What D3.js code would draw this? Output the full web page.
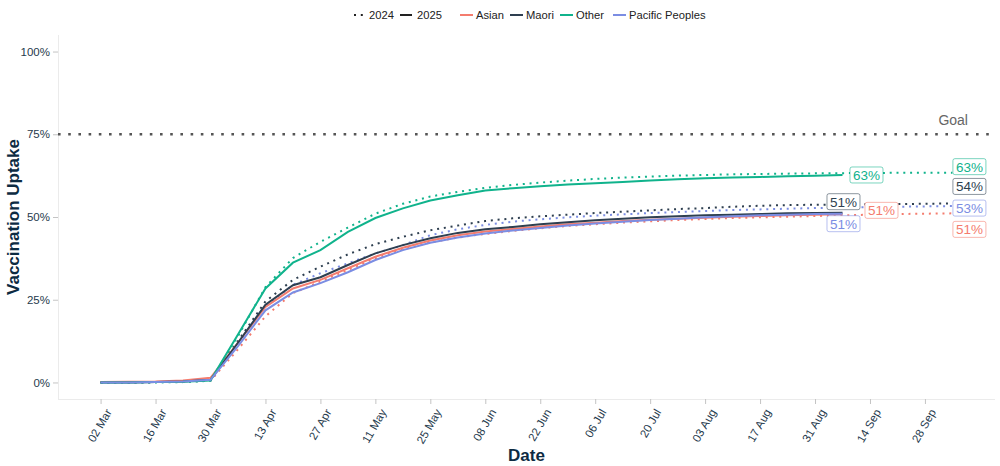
<!DOCTYPE html>
<html>
<head>
<meta charset="utf-8">
<title>Vaccination Uptake</title>
<style>
  body { margin: 0; background: #fff; font-family: 'Liberation Sans', Arial, Helvetica, sans-serif; }
  .axis text { fill: #1f3a4d; font-size: 11.5px; }
  .axis .domain { stroke: #ebebeb; }
  .axis .tick line { stroke: #c4c4c4; }
  .axisTitle { fill: #0d2b42; font-weight: bold; font-size: 17px; }
  .legend text { fill: #222; font-size: 11.2px; }
</style>
</head>
<body>
<div id="viz"></div>
<script src="https://d3js.org/d3.v7.min.js"></script>
<script>
// weekly dates (2024 runs a month longer than 2025)
var dates = ['2025-03-02','2025-03-09','2025-03-16','2025-03-23','2025-03-30','2025-04-06','2025-04-13',
  '2025-04-20','2025-04-27','2025-05-04','2025-05-11','2025-05-18','2025-05-25','2025-06-01','2025-06-08',
  '2025-06-15','2025-06-22','2025-06-29','2025-07-06','2025-07-13','2025-07-20','2025-07-27','2025-08-03',
  '2025-08-10','2025-08-17','2025-08-24','2025-08-31','2025-09-07','2025-09-14','2025-09-21','2025-09-28',
  '2025-10-05'];

var tickDates = ['2025-03-02','2025-03-16','2025-03-30','2025-04-13','2025-04-27','2025-05-11','2025-05-25',
  '2025-06-08','2025-06-22','2025-07-06','2025-07-20','2025-08-03','2025-08-17','2025-08-31','2025-09-14',
  '2025-09-28'];

var yTicks = [0, 25, 50, 75, 100];
var goal = 75;

var groups = ['Asian', 'Maori', 'Other', 'Pacific Peoples'];
var colors = ['#f47c6e', '#2e3f50', '#10b38c', '#7b8de3'];

// 2025 uptake (%), Mar 2 - Sep 7
var asian2025 = [0.1,0.2,0.3,0.6,1.4,12,22.8,28.4,31,34.5,38,40.7,42.9,44.5,45.6,46.4,47.1,47.8,48.3,48.8,49.2,49.5,49.8,50.1,50.3,50.5,50.7,50.8];
var maori2025 = [0,0,0.1,0.3,0.8,12,23.5,29.4,31.8,35.5,39,41.5,43.6,45.2,46.3,47,47.8,48.4,49,49.5,49.9,50.2,50.5,50.7,50.9,51.1,51.2,51.3];
var other2025 = [0,0,0.1,0.2,0.6,14.5,28.4,36.2,40,45.5,49.7,52.6,55,56.6,58,58.7,59.3,59.8,60.2,60.6,61,61.4,61.7,61.9,62.1,62.3,62.5,62.7];
var pacific2025 = [0,0,0.1,0.3,0.8,11,21.8,27.2,30,33.3,37,40,42.2,43.8,45,45.9,46.7,47.4,48,48.6,49.1,49.5,49.9,50.2,50.5,50.7,50.9,51];

// 2024 uptake (%), same week of year, Mar 2 - Oct 5
var asian2024 = [0,0,0.1,0.2,0.5,10,20,27,30.5,34,37.5,40.2,42.3,43.8,44.9,45.8,46.6,47.3,47.8,48.3,48.7,49.1,49.4,49.7,49.9,50.1,50.3,50.5,50.7,50.9,51,51.1];
var maori2024 = [0,0,0.1,0.2,0.7,12.5,24.5,31,35,38.7,41.8,44,46,47.4,48.8,49.6,50.2,50.7,51.2,51.6,52,52.4,52.7,53.1,53.4,53.6,53.7,53.8,53.85,53.9,54,54.1];
var other2024 = [0,0,0,0.1,0.5,14,28.8,37.6,42.5,46.8,51,54,56.2,57.6,58.8,59.7,60.4,61,61.5,61.9,62.2,62.5,62.7,62.9,63,63.1,63.2,63.25,63.3,63.35,63.4,63.4];
var pacific2024 = [0,0,0.1,0.2,0.6,11.5,23,29.5,33,36,39,41.5,44.5,46.3,47.6,48.6,49.3,49.9,50.4,50.8,51.2,51.5,51.8,52.1,52.3,52.5,52.7,52.9,53,53.1,53.2,53.3];

var series2025 = [asian2025, maori2025, other2025, pacific2025];
var series2024 = [asian2024, maori2024, other2024, pacific2024];

// nudges for the end labels (pixels), roughly where the repel put them
var nudge2025 = [[39, -4], [1, -11], [24, 0], [1, 10]];
var nudge2024 = [[17, 16], [17, -17], [17, -6], [17, 2]];

var parse = d3.timeParse('%Y-%m-%d');
var W = 1000, H = 466;
var padL = 58, padR = 995, padT = 35, padB = 399;

var svg = d3.select('#viz').append('svg').attr('width', W).attr('height', H);

var d0 = parse(dates[0]), d1 = parse(dates[dates.length - 1]);
var pad = (d1 - d0) * 0.05;
var x = d3.scaleTime().domain([new Date(+d0 - pad), new Date(+d1 + pad)]).range([padL, padR]);
var y = d3.scaleLinear().domain([-5, 105]).range([padB, padT]);

// axes
svg.append('g')
    .attr('class', 'axis')
    .attr('transform', 'translate(' + padL + ',0)')
    .call(d3.axisLeft(y).tickValues(yTicks).tickSize(5).tickPadding(3).tickFormat(function(d){ return d + '%'; }))
    .call(function(g){ g.select('.domain').attr('d', 'M0.5,' + padT + 'V' + padB); });

var xAxis = svg.append('g')
    .attr('class', 'axis')
    .attr('transform', 'translate(0,' + padB + ')')
    .call(d3.axisBottom(x).tickValues(tickDates.map(parse)).tickSize(5).tickFormat(d3.timeFormat('%d %b')))
    .call(function(g){ g.select('.domain').attr('d', 'M' + padL + ',0.5H' + padR); });
xAxis.selectAll('.tick text')
    .attr('text-anchor', 'end')
    .attr('y', 0).attr('dy', '0.7em')
    .attr('transform', 'translate(4,9) rotate(-60)');

svg.append('text').attr('class', 'axisTitle')
    .attr('transform', 'translate(19,' + y(50) + ') rotate(-90)')
    .attr('text-anchor', 'middle')
    .text('Vaccination Uptake');
svg.append('text').attr('class', 'axisTitle')
    .attr('x', (padL + padR) / 2).attr('y', 461)
    .attr('text-anchor', 'middle')
    .text('Date');

// goal line
svg.append('line')
    .attr('x1', padL).attr('x2', padR)
    .attr('y1', y(goal)).attr('y2', y(goal))
    .attr('stroke', '#555').attr('stroke-width', 2.6)
    .attr('stroke-dasharray', '2.6 7.6');
svg.append('text')
    .attr('x', x(parse(dates[dates.length - 1])) - 14).attr('y', y(goal) - 9)
    .attr('fill', '#666').attr('font-size', '14px')
    .text('Goal');

var line = d3.line()
    .x(function(d){ return x(d.date); })
    .y(function(d){ return y(d.value); });

function toPoints(vals) {
  return vals.map(function(v, i){ return {date: parse(dates[i]), value: v}; });
}

series2024.forEach(function(vals, i) {
  svg.append('path')
      .attr('d', line(toPoints(vals)))
      .attr('fill', 'none')
      .attr('stroke', colors[i])
      .attr('stroke-width', 2)
      .attr('stroke-dasharray', '2 4.8');
});

series2025.forEach(function(vals, i) {
  svg.append('path')
      .attr('d', line(toPoints(vals)))
      .attr('fill', 'none')
      .attr('stroke', colors[i])
      .attr('stroke-width', 2);
});

// end labels
function endLabel(vals, i, nudge) {
  var last = vals.length - 1;
  var cx = x(parse(dates[last])) + nudge[0];
  var cy = y(vals[last]) + nudge[1];
  var g = svg.append('g').attr('transform', 'translate(' + cx + ',' + cy + ')');
  g.append('rect')
      .attr('x', -16.5).attr('y', -8).attr('width', 33).attr('height', 16)
      .attr('rx', 2).attr('fill', '#fff')
      .attr('stroke', colors[i]).attr('stroke-opacity', 0.55).attr('stroke-width', 1);
  g.append('text')
      .attr('text-anchor', 'middle').attr('dy', '0.36em')
      .attr('fill', colors[i]).attr('font-size', '13.5px')
      .text(Math.round(vals[last]) + '%');
}
series2025.forEach(function(vals, i){ endLabel(vals, i, nudge2025[i]); });
series2024.forEach(function(vals, i){ endLabel(vals, i, nudge2024[i]); });

// legend
var lg = svg.append('g').attr('class', 'legend').attr('transform', 'translate(0,15)');
lg.append('line').attr('x1', 354).attr('x2', 364).attr('stroke', '#222')
    .attr('stroke-width', 2).attr('stroke-dasharray', '2 4.8');
lg.append('text').attr('x', 369).attr('dy', '0.36em').text('2024');
lg.append('line').attr('x1', 400).attr('x2', 412).attr('stroke', '#222').attr('stroke-width', 2);
lg.append('text').attr('x', 417).attr('dy', '0.36em').text('2025');

var legX = [460, 510, 560, 613];
groups.forEach(function(name, i) {
  lg.append('line').attr('x1', legX[i]).attr('x2', legX[i] + 13)
      .attr('stroke', colors[i]).attr('stroke-width', 2);
  lg.append('text').attr('x', legX[i] + 16).attr('dy', '0.36em').text(name);
});
</script>
</body>
</html>
